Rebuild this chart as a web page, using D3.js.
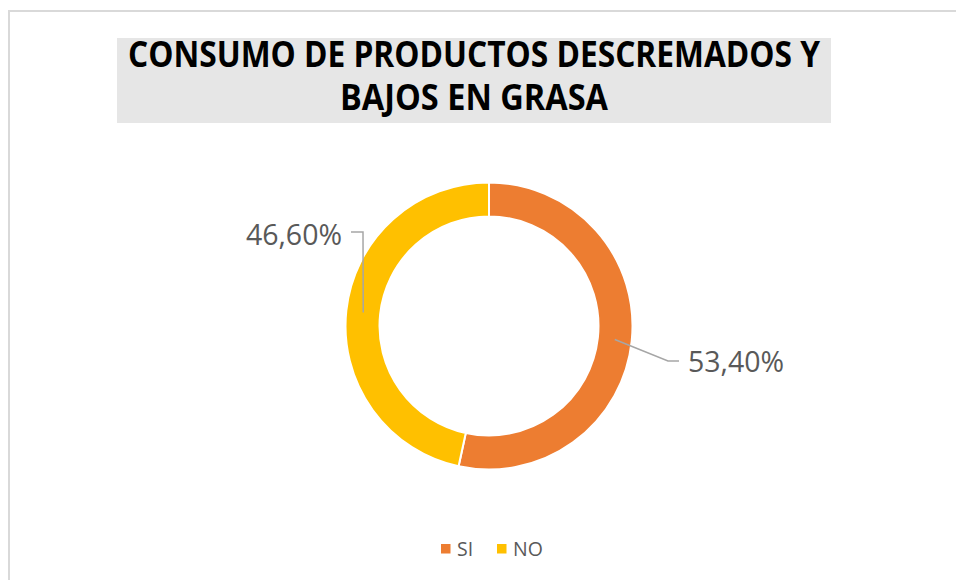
<!DOCTYPE html>
<html>
<head>
<meta charset="utf-8">
<script src="https://cdn.jsdelivr.net/npm/d3@7"></script>
<style>
  body { margin: 0; background: #fff; }
  svg { display: block; }
</style>
</head>
<body>
<div id="chart"></div>
<script>
// Chart data
const categories = ["SI", "NO"];
const values = [53.4, 46.6];
const colors = ["#ED7D31", "#FFC000"];
const titleLines = ["CONSUMO DE PRODUCTOS DESCREMADOS Y", "BAJOS EN GRASA"];

const svgWidth = 956, svgHeight = 580;
const cx = 489, cy = 326;
const outerR = 143.5, innerR = 109.5;

const svg = d3.select("#chart")
    .append("svg")
    .attr("width", svgWidth)
    .attr("height", svgHeight);

// Chart area border (cut off at right and bottom)
svg.append("rect")
    .attr("x", 9)
    .attr("y", 11)
    .attr("width", 1000)
    .attr("height", 1000)
    .attr("fill", "#fff")
    .attr("stroke", "#D9D9D9")
    .attr("stroke-width", 2);

// Title box
svg.append("rect")
    .attr("x", 117)
    .attr("y", 38)
    .attr("width", 714)
    .attr("height", 85)
    .attr("fill", "#E6E6E6");

const titleFont = "'Open Sans', 'Liberation Sans', sans-serif";
svg.append("text")
    .attr("x", 474)
    .attr("y", 67)
    .attr("text-anchor", "middle")
    .attr("font-family", titleFont)
    .attr("font-weight", "bold")
    .attr("font-size", 35)
    .attr("textLength", 692)
    .attr("lengthAdjust", "spacingAndGlyphs")
    .attr("fill", "#000")
    .text(titleLines[0]);

svg.append("text")
    .attr("x", 474)
    .attr("y", 110)
    .attr("text-anchor", "middle")
    .attr("font-family", titleFont)
    .attr("font-weight", "bold")
    .attr("font-size", 35)
    .attr("textLength", 268)
    .attr("lengthAdjust", "spacingAndGlyphs")
    .attr("fill", "#000")
    .text(titleLines[1]);

// Donut
const pie = d3.pie().sort(null).value(d => d.value);
const arcs = pie(categories.map((c, i) => ({ key: c, value: values[i] })));
const arc = d3.arc().innerRadius(innerR).outerRadius(outerR);
const midArc = d3.arc().innerRadius((innerR + outerR) / 2).outerRadius((innerR + outerR) / 2);

const g = svg.append("g").attr("transform", `translate(${cx},${cy})`);

g.selectAll("path")
    .data(arcs)
    .enter().append("path")
    .attr("d", arc)
    .attr("fill", (d, i) => colors[i])
    .attr("stroke", "#fff")
    .attr("stroke-width", 2);

// Data labels with leader lines (label placement offsets)
const fmt = v => d3.format(".2f")(v).replace(".", ",") + "%";
const labelPos = [
    { elbow: [179, 35], end: [190, 35], text: [199, 46], anchor: "start" },
    { elbow: [-126, -94], end: [-138, -94], text: [-147, -81], anchor: "end" }
];

arcs.forEach((d, i) => {
    const p = midArc.centroid(d);
    const lp = labelPos[i];
    g.append("polyline")
        .attr("points", [p, lp.elbow, lp.end].map(q => q.join(",")).join(" "))
        .attr("fill", "none")
        .attr("stroke", "#A6A6A6")
        .attr("stroke-width", 1.5);
    g.append("text")
        .attr("x", lp.text[0])
        .attr("y", lp.text[1])
        .attr("text-anchor", lp.anchor)
        .attr("font-family", "'Open Sans', 'Liberation Sans', sans-serif")
        .attr("font-size", 28.5)
        .attr("fill", "#595959")
        .text(fmt(d.data.value));
});

// Legend
const legend = svg.append("g")
    .attr("font-family", "'Open Sans', 'Liberation Sans', sans-serif")
    .attr("font-size", 19.5)
    .attr("fill", "#595959")
    .selectAll("g")
    .data(categories)
    .enter().append("g")
    .attr("transform", (d, i) => `translate(${441 + i * 56}, 544)`);

legend.append("rect")
    .attr("width", 9.5)
    .attr("height", 9.5)
    .attr("fill", (d, i) => colors[i]);

legend.append("text")
    .attr("x", 16)
    .attr("y", 11.5)
    .text(d => d);
</script>
</body>
</html>
